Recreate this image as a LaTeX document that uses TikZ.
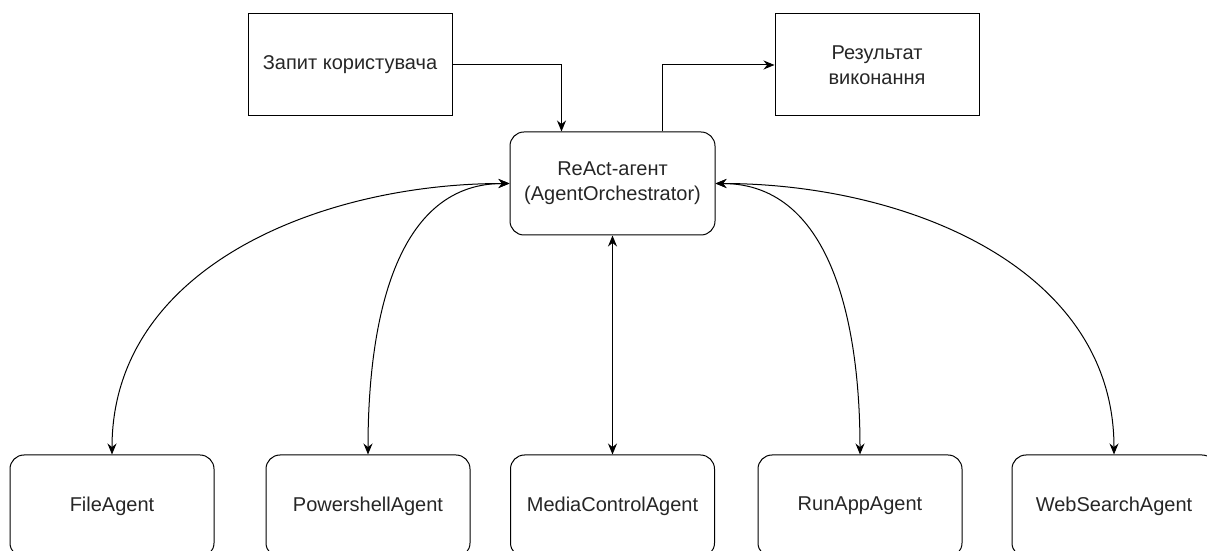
\documentclass[tikz,border=0pt]{standalone}
\usepackage{fontspec}
\setmainfont{Liberation Sans}
\usetikzlibrary{arrows.meta,positioning}

\begin{document}
\begin{tikzpicture}[x=1pt,y=1pt,
		box/.style={draw,line width=1pt,minimum width=204pt,minimum height=102pt,inner sep=2pt,align=center,text=black!85,font=\fontsize{20}{25}\selectfont},
		agent/.style={box,rounded corners=14pt},
		link/.style={line width=1pt,-{Stealth[length=11pt,width=9pt]}},
		both/.style={line width=1pt,{Stealth[length=11pt,width=9pt]}-{Stealth[length=11pt,width=9pt]}}]
		\useasboundingbox (0,0) rectangle (1207,551);
		%Input and output
		\node[box] (query) at (350,486) {Запит користувача};
		\node[box] (result) at (877,486) {Результат\\виконання};
		%Orchestrator
		\node[agent,minimum width=205pt,minimum height=103pt] (react) at (612.5,367.5) {ReAct-агент\\(AgentOrchestrator)};
		%Agents
		\node[agent] (file) at (112,45) {FileAgent};
		\node[agent] (shell) at (368,45) {PowershellAgent};
		\node[agent] (media) at (612.5,45) {MediaControlAgent};
		\node[agent] (runapp) at (860,45) {RunAppAgent};
		\node[agent] (web) at (1114,45) {WebSearchAgent};
		%Arrows
		\draw[link] (query.east) -| ([xshift=-51pt]react.north);
		\draw[link] ([xshift=50pt]react.north) |- (result.west);
		\draw[both] (react.west) to[out=180,in=90] (file.north);
		\draw[both] (react.west) to[out=180,in=90] (shell.north);
		\draw[both] (react.south) -- (media.north);
		\draw[both] (react.east) to[out=0,in=90] (runapp.north);
		\draw[both] (react.east) to[out=0,in=90] (web.north);
\end{tikzpicture}
\end{document}
